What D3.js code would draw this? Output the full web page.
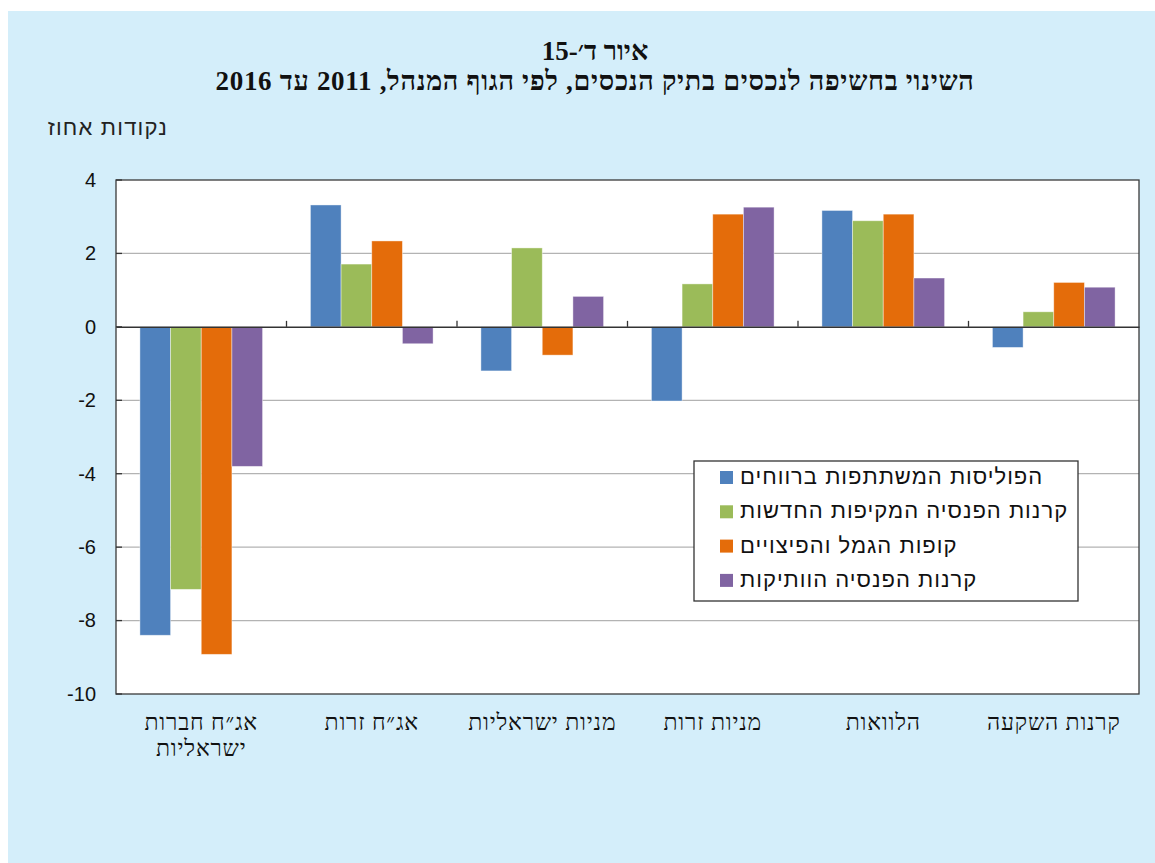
<!DOCTYPE html>
<html>
<head>
<meta charset="utf-8">
<script src="https://cdn.jsdelivr.net/npm/d3@7"></script>
<style>
  html, body { margin: 0; padding: 0; background: #ffffff; }
  svg { display: block; }
</style>
</head>
<body>
<svg id="chart" width="1155" height="863"></svg>
<script>
// categories, left to right as drawn
const categories = [
  ["אג״ח חברות", "ישראליות"],
  ["אג״ח זרות"],
  ["מניות ישראליות"],
  ["מניות זרות"],
  ["הלוואות"],
  ["קרנות השקעה"],
];
const seriesNames = [
  "הפוליסות המשתתפות ברווחים",
  "קרנות הפנסיה המקיפות החדשות",
  "קופות הגמל והפיצויים",
  "קרנות הפנסיה הוותיקות",
];
const seriesColors = ["#4f81bd", "#9bbb59", "#e46c0a", "#8064a2"];
const policies = [-8.4, 3.32, -1.2, -2.02, 3.17, -0.56];
const newPension = [-7.15, 1.71, 2.15, 1.17, 2.89, 0.41];
const provident = [-8.92, 2.34, -0.77, 3.07, 3.07, 1.21];
const oldPension = [-3.8, -0.46, 0.83, 3.26, 1.33, 1.08];
const yTicks = [4, 2, 0, -2, -4, -6, -8, -10];

const series = [policies, newPension, provident, oldPension];

const svg = d3.select("#chart");
const W = 1155, H = 863;

// light blue panel
svg.append("rect").attr("x", 8).attr("y", 11).attr("width", W - 8).attr("height", H - 11)
  .attr("fill", "#d4eefa");

const plot = { left: 116, right: 1139, top: 180, bottom: 694 };

const x0 = d3.scaleBand().domain(d3.range(categories.length))
  .range([plot.left, plot.right]).paddingInner(0).paddingOuter(0);
const x1 = d3.scaleBand().domain(d3.range(series.length))
  .range([0, x0.bandwidth()]).paddingOuter(0.78).paddingInner(0);
const y = d3.scaleLinear().domain([-10, 4]).range([plot.bottom, plot.top]);

// plot area
svg.append("rect").attr("x", plot.left).attr("y", plot.top)
  .attr("width", plot.right - plot.left).attr("height", plot.bottom - plot.top)
  .attr("fill", "#ffffff");

// gridlines
svg.append("g").selectAll("line").data(yTicks.filter(d => d !== 0 && d !== 4 && d !== -10))
  .join("line")
  .attr("x1", plot.left).attr("x2", plot.right)
  .attr("y1", d => y(d)).attr("y2", d => y(d))
  .attr("stroke", "#b3b3b3").attr("stroke-width", 1.3);

// bars
const rows = categories.map((c, i) => series.map((s, j) => ({ i, j, v: s[i] })));
svg.append("g").selectAll("g").data(rows).join("g")
  .attr("transform", (d, i) => `translate(${x0(i)},0)`)
  .selectAll("rect").data(d => d).join("rect")
  .attr("x", d => x1(d.j))
  .attr("width", x1.bandwidth())
  .attr("y", d => y(Math.max(0, d.v)))
  .attr("height", d => Math.abs(y(d.v) - y(0)))
  .attr("fill", d => seriesColors[d.j])
  .attr("stroke", "#ffffff").attr("stroke-opacity", 0.5).attr("stroke-width", 0.8);

// frame
svg.append("rect").attr("x", plot.left).attr("y", plot.top)
  .attr("width", plot.right - plot.left).attr("height", plot.bottom - plot.top)
  .attr("fill", "none").attr("stroke", "#3a3a3a").attr("stroke-width", 1.3);

// zero line with category ticks
const xAxis = d3.axisTop(x0).tickSize(0).tickFormat("");
svg.append("g").attr("transform", `translate(0,${y(0)})`).call(xAxis)
  .call(g => g.select(".domain").attr("stroke", "#333").attr("stroke-width", 1.5));
svg.append("g").selectAll("line").data(d3.range(1, categories.length))
  .join("line")
  .attr("x1", i => x0(i)).attr("x2", i => x0(i))
  .attr("y1", y(0)).attr("y2", y(0) - 6)
  .attr("stroke", "#333").attr("stroke-width", 1.3);

// y axis
const yAxis = d3.axisLeft(y).tickValues(yTicks).tickSize(0).tickPadding(20)
  .tickFormat(d => d);
svg.append("g").attr("transform", `translate(${plot.left},0)`).call(yAxis)
  .call(g => g.select(".domain").remove())
  .call(g => g.selectAll("text")
    .attr("font-family", "'Liberation Sans', Arial, sans-serif")
    .attr("font-size", 20).attr("fill", "#111"));
svg.append("g").selectAll("line").data(yTicks)
  .join("line")
  .attr("x1", plot.left).attr("x2", plot.left + 6)
  .attr("y1", d => y(d)).attr("y2", d => y(d))
  .attr("stroke", "#333").attr("stroke-width", 1.3);

// category labels
const lab = svg.append("g").selectAll("text").data(categories).join("text")
  .attr("x", (d, i) => x0(i) + x0.bandwidth() / 2)
  .attr("y", 730)
  .attr("text-anchor", "middle")
  .attr("direction", "rtl")
  .attr("font-family", "'Liberation Serif', 'DejaVu Serif', serif")
  .attr("font-size", 23).attr("letter-spacing", 0.8).attr("fill", "#111");
lab.selectAll("tspan").data(d => d).join("tspan")
  .attr("x", function () { return this.parentNode.getAttribute("x"); })
  .attr("dy", (d, k) => k === 0 ? 0 : 26)
  .text(d => d);

// title
svg.append("text").attr("x", 595).attr("y", 60).attr("text-anchor", "middle")
  .attr("direction", "rtl")
  .attr("font-family", "'Liberation Serif', 'DejaVu Serif', serif")
  .attr("font-weight", "bold").attr("font-size", 27).attr("fill", "#111")
  .text("איור ד׳-15");
svg.append("text").attr("x", 595).attr("y", 90).attr("text-anchor", "middle")
  .attr("direction", "rtl")
  .attr("font-family", "'Liberation Serif', 'DejaVu Serif', serif")
  .attr("font-weight", "bold").attr("font-size", 27).attr("letter-spacing", 0.7)
  .attr("fill", "#111")
  .text("השינוי בחשיפה לנכסים בתיק הנכסים, לפי הגוף המנהל, 2011 עד 2016");

// y unit label
svg.append("text").attr("x", 168).attr("y", 135).attr("text-anchor", "start")
  .attr("direction", "rtl")
  .attr("font-family", "'Liberation Sans', Arial, sans-serif")
  .attr("font-size", 22).attr("letter-spacing", 1.2).attr("fill", "#222")
  .text("נקודות אחוז");

// legend
const leg = svg.append("g");
leg.append("rect").attr("x", 694).attr("y", 461).attr("width", 384).attr("height", 140)
  .attr("fill", "#ffffff").attr("stroke", "#333").attr("stroke-width", 1.3);
const item = leg.selectAll("g.item").data(seriesNames).join("g").attr("class", "item")
  .attr("transform", (d, i) => `translate(720,${477 + i * 34.3})`);
item.append("rect").attr("x", 0).attr("y", -6).attr("width", 13).attr("height", 13)
  .attr("fill", (d, i) => seriesColors[i]);
item.append("text").attr("x", 20).attr("y", 0).attr("dy", "0.32em")
  .attr("direction", "rtl").attr("text-anchor", "end")
  .attr("font-family", "'Liberation Sans', Arial, sans-serif")
  .attr("font-size", 22).attr("letter-spacing", 1).attr("fill", "#111")
  .text(d => d);
</script>
</body>
</html>
